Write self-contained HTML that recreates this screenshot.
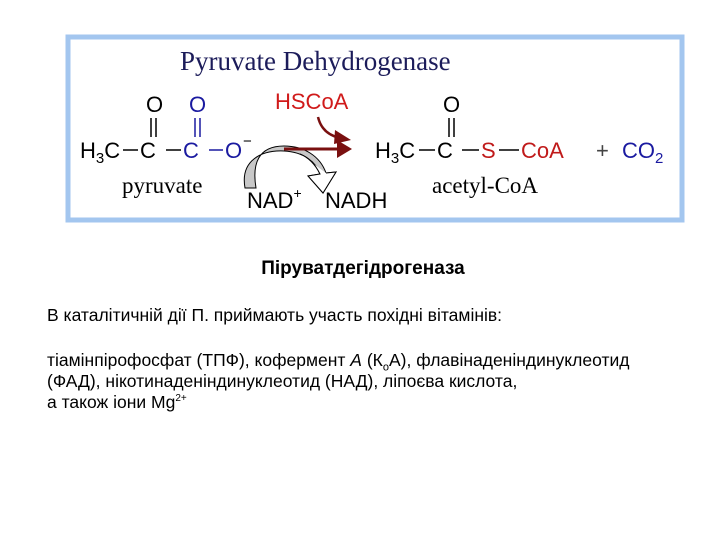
<!DOCTYPE html>
<html><head><meta charset="utf-8"><style>
body{margin:0;width:720px;height:540px;background:#fff;position:relative;overflow:hidden;font-family:"Liberation Sans",Arial,sans-serif}
.t{position:absolute;font-size:17.5px;color:#000;white-space:nowrap}
sub,sup{line-height:0}
</style></head><body>
<svg width="720" height="540" style="position:absolute;left:0;top:0" font-family="Liberation Sans, Arial, sans-serif">
<rect x="68" y="37" width="614" height="183" fill="#fff" stroke="#a3c6ef" stroke-width="5"/>
<text x="180" y="70" font-family="Liberation Serif, serif" font-size="27" fill="#1c1c5a">Pyruvate Dehydrogenase</text>
<path d="M245 188 C240 160 262 150 284 151 C304 152 316 162 320 174 L308 176 L323 193 L336 172 L326 173 C320 156 304 146 284 146 C258 146 252 164 256 188 Z" fill="#c8c8c8" stroke="#000" stroke-width="1"/>
<path d="M300 154 C310 158 316 166 320 174 L308 176 L323 193 L336 172 L326 173" fill="#fff" stroke="#000" stroke-width="1"/>
<g font-size="22">
<text x="80" y="158">H<tspan font-size="15" dy="5">3</tspan><tspan dy="-5">C</tspan></text>
<line x1="123" y1="150" x2="138" y2="150" stroke="#000" stroke-width="1.5"/>
<text x="140" y="158">C</text>
<text x="146" y="112">O</text>
<line x1="151" y1="118" x2="151" y2="137" stroke="#000" stroke-width="1.5"/>
<line x1="156" y1="118" x2="156" y2="137" stroke="#000" stroke-width="1.5"/>
<line x1="166" y1="150" x2="181" y2="150" stroke="#000" stroke-width="1.5"/>
<text x="183" y="158" fill="#1a1aa0">C</text>
<text x="189" y="112" fill="#1a1aa0">O</text>
<line x1="195" y1="118" x2="195" y2="137" stroke="#1a1aa0" stroke-width="1.5"/>
<line x1="200" y1="118" x2="200" y2="137" stroke="#1a1aa0" stroke-width="1.5"/>
<line x1="209" y1="150" x2="223" y2="150" stroke="#1a1aa0" stroke-width="1.5"/>
<text x="225" y="158" fill="#1a1aa0">O</text>
<text x="243" y="146" font-size="15" fill="#000">−</text>
<text x="275" y="109" fill="#d01a1a">HSCoA</text>
<text x="375" y="158">H<tspan font-size="15" dy="5">3</tspan><tspan dy="-5">C</tspan></text>
<line x1="419" y1="150" x2="435" y2="150" stroke="#000" stroke-width="1.5"/>
<text x="437" y="158">C</text>
<text x="443" y="112">O</text>
<line x1="449" y1="118" x2="449" y2="137" stroke="#000" stroke-width="1.5"/>
<line x1="454" y1="118" x2="454" y2="137" stroke="#000" stroke-width="1.5"/>
<line x1="462" y1="150" x2="479" y2="150" stroke="#000" stroke-width="1.5"/>
<text x="481" y="158" fill="#c01a1a">S</text>
<line x1="499" y1="150" x2="519" y2="150" stroke="#000" stroke-width="1.5"/>
<text x="521" y="158" fill="#c01a1a">CoA</text>
<text x="596" y="158" fill="#444">+</text>
<text x="622" y="158" fill="#1a1aa0">CO<tspan font-size="15" dy="5">2</tspan></text>
<text x="247" y="208">NAD<tspan font-size="14" dy="-10">+</tspan></text>
<text x="325" y="208">NADH</text>
</g>
<text x="122" y="193" font-family="Liberation Serif, serif" font-size="23">pyruvate</text>
<text x="432" y="193" font-family="Liberation Serif, serif" font-size="23">acetyl-CoA</text>
<line x1="284" y1="149" x2="340" y2="149" stroke="#7a1010" stroke-width="3"/>
<polygon points="337,140 352,149 337,158" fill="#7a1010"/>
<path d="M318 117 Q322 134 340 138" fill="none" stroke="#7a1010" stroke-width="2.5"/>
<polygon points="335,130 351,140 334,144" fill="#7a1010"/>
</svg>
<div class="t" style="left:0;width:726px;text-align:center;top:258px;font-weight:bold;font-size:19px">Піруватдегідрогеназа</div>
<div class="t" style="left:47px;top:305px">В каталітичній дії П. приймають участь похідні вітамінів:</div>
<div class="t" style="left:47px;top:350px;line-height:21px">тіамінпірофосфат (ТПФ), кофермент <i>А</i> (К<sub style="font-size:11px">о</sub>А), флавінаденіндинуклеотид<br>(ФАД), нікотинаденіндинуклеотид (НАД), ліпоєва кислота,<br>а також іони Mg<sup style="font-size:10px">2+</sup></div>
</body></html>
